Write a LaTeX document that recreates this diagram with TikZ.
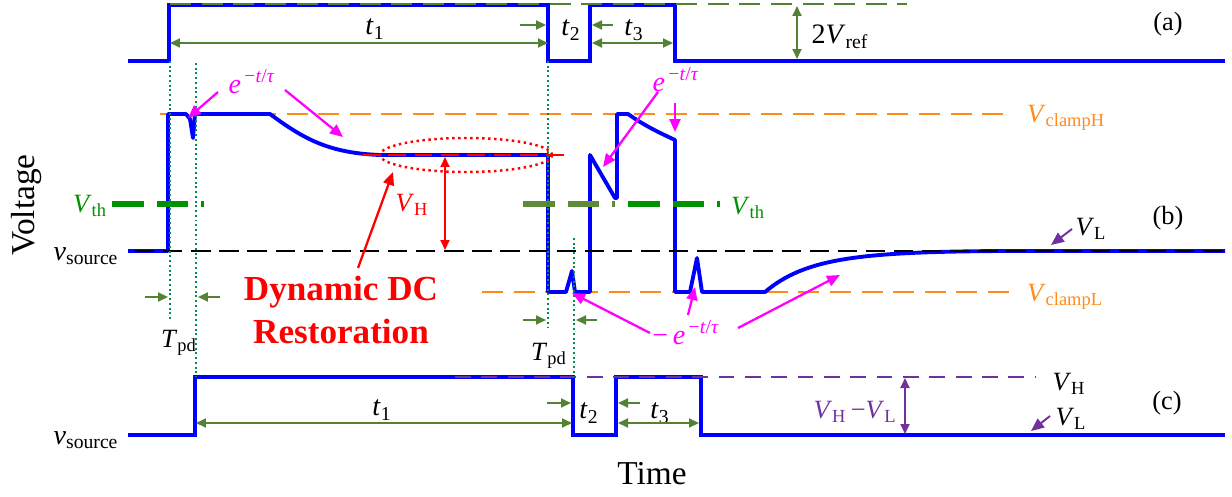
\documentclass[tikz,border=0pt]{standalone}
\usepackage{fontspec}
\setmainfont{Liberation Serif}
\usetikzlibrary{arrows.meta,positioning}
\definecolor{WaveBlue}{HTML}{0000FF}
\definecolor{DimGreen}{HTML}{548235}
\definecolor{DotGreen}{HTML}{00904A}
\definecolor{ThGreen}{HTML}{009000}
\definecolor{ThOlive}{HTML}{5E8A3A}
\definecolor{ClampOrange}{HTML}{FF8C1A}
\definecolor{DecayPink}{HTML}{FF00FF}
\definecolor{RestRed}{HTML}{FF0000}
\definecolor{LevPurple}{HTML}{7030A0}
\newcommand{\vsub}[2]{\textit{#1}\textsubscript{#2}}
\newcommand{\decay}{\textit{e}\textsuperscript{\,−\textit{t}/\textit{τ}}}

\begin{document}
\begin{tikzpicture}[x=0.02cm,y=-0.02cm,font=\fontsize{16}{18}\selectfont,
  wave/.style={draw=WaveBlue,line width=2.2pt},
  dim/.style={DimGreen,line width=1pt,{Triangle[length=2mm,width=1.8mm]}-{Triangle[length=2mm,width=1.8mm]}},
  tip/.style={DimGreen,line width=1pt,-{Triangle[length=2mm,width=1.8mm]}},
  ptr/.style={line width=1.3pt,-{Triangle[length=2.6mm,width=2.2mm]}},
  guide/.style={DotGreen,line width=1.1pt,dash pattern=on 1.1pt off 1.6pt},
  lvl/.style={line width=1.6pt,dash pattern=on 12pt off 6pt},
  thr/.style={line width=3pt,dash pattern=on 18pt off 7.4pt on 18pt off 7.4pt on 1.7pt off 6.8pt},
  tag/.style={font=\fontsize{15}{17}\selectfont}]
  \useasboundingbox (0,0) rectangle (1232,497);

  % (a) reference pulses
  \draw[wave] (128,61) -| (169,5) -| (548,61) -| (590,5) -| (675,61) -- (1225,61);
  \draw[DimGreen,lvl,line width=1.3pt] (170,4) -- (907,4);

  % (b) source voltage
  \draw[ClampOrange,lvl] (160,114) -- (1012,114);
  \draw[ClampOrange,lvl] (482,292) -- (1012,292);
  \draw[wave,line join=round] (128,251) -- (168,251) -- (168,114) -- (186,114) -- (190,119) -- (193,138) -- (195,114) -- (270,114)
    .. controls (305,140) and (330,153) .. (380,155) -- (548,155) -- (548,292) -- (566,292) -- (572,271) -- (575,292) -- (590,292)
    -- (590,155) -- (615,198) -- (617,198) -- (617,114) -- (628,114) .. controls (645,126) and (660,133) .. (675,140)
    -- (675,292) -- (690,292) -- (697,258) -- (702,292) -- (765,292) .. controls (805,258) and (860,252) .. (1000,251) -- (1225,251);
  \draw[black,lvl,dash pattern=on 11pt off 5pt] (135,251) -- (1225,251);
  \draw[RestRed,lvl,line width=1.4pt,dash pattern=on 10pt off 5pt] (362,155) -- (567,155);
  \draw[RestRed,dotted,line width=1.4pt] (466,155) ellipse [x radius=1.72cm,y radius=0.34cm];
  \draw[ThGreen,thr] (112,204) -- (206,204);
  \draw[ThOlive,thr] (523,204) -- (616,204);
  \draw[ThGreen,thr] (628,204) -- (722,204);

  % (c) restored output
  \draw[wave] (128,435) -| (195,377) -| (573,435) -| (616,377) -| (701,435) -- (1225,435);
  \draw[LevPurple,lvl,dash pattern=on 9pt off 6pt] (455,377) -- (1035,377);

  % propagation delay guides
  \draw[guide] (170,61) -- (170,320);
  \draw[guide] (196,63) -- (196,377);
  \draw[guide] (548,61) -- (548,327);
  \draw[guide] (574,238) -- (574,377);

  % labels
  \node (ta1) at (375,29) {\vsub{t}{1}};
  \node (ta2) at (571,30) {\vsub{t}{2}};
  \node (ta3) at (634,30) {\vsub{t}{3}};
  \node (vref) at (840,37) {2\vsub{V}{ref}};
  \node[tag] (pa) at (1168,24) {(a)};
  \node[tag,text=ClampOrange] (vch) at (1066,118) {\vsub{V}{clampH}};
  \node[tag,text=ClampOrange] (vcl) at (1065,297) {\vsub{V}{clampL}};
  \node[text=DecayPink] (ea) at (252,82) {\decay};
  \node[text=DecayPink] (eb) at (676,80) {\decay};
  \node[text=DecayPink] (ec) at (686,333) {−\,\decay};
  \node[tag,text=ThGreen] (vthl) at (90,206) {\vsub{V}{th}};
  \node[tag,text=ThGreen] (vthr) at (748,208) {\vsub{V}{th}};
  \node[tag,text=RestRed] (vhb) at (412,205) {\vsub{V}{H}};
  \node[tag] (vlb) at (1091,229) {\vsub{V}{L}};
  \node[tag] (pb) at (1168,218) {(b)};
  \node (vsb) at (86,256) {\vsub{v}{source}};
  \node[tag] (tpd1) at (179,343) {\vsub{T}{pd}};
  \node[tag] (tpd2) at (549,356) {\vsub{T}{pd}};
  \node[text=RestRed,font=\fontsize{20}{24}\selectfont\bfseries,align=center] (ddc) at (341,310) {Dynamic DC\\Restoration};
  \node (tc1) at (382,410) {\vsub{t}{1}};
  \node (tc2) at (589,413) {\vsub{t}{2}};
  \node (tc3) at (660,413) {\vsub{t}{3}};
  \node[tag] (vhc) at (1069,384) {\vsub{V}{H}};
  \node[tag] (vlc) at (1071,419) {\vsub{V}{L}};
  \node[tag] (pc) at (1167,403) {(c)};
  \node[tag,text=LevPurple] (vhl) at (855,412) {\vsub{V}{H}\,−\vsub{V}{L}};
  \node (vsc) at (86,440) {\vsub{v}{source}};
  \node[font=\fontsize{19}{22}\selectfont,rotate=90] (volt) at (27,205) {Voltage};
  \node[font=\fontsize{19}{22}\selectfont] (time) at (652,474) {Time};

  % arrow end points
  \coordinate (a1l) at (170,43); \coordinate (a1r) at (548,43);
  \coordinate (a3l) at (592,43); \coordinate (a3r) at (673,43);
  \coordinate (a2s) at (520,25); \coordinate (a2e) at (546,25);
  \coordinate (a3s) at (613,25); \coordinate (a3e) at (592,25);
  \coordinate (refT) at (797,6); \coordinate (refB) at (797,59);
  \coordinate (c1l) at (196,423); \coordinate (c1r) at (572,423);
  \coordinate (c3l) at (618,423); \coordinate (c3r) at (699,423);
  \coordinate (c2s) at (547,403); \coordinate (c2e) at (571,403);
  \coordinate (c3s) at (640,403); \coordinate (c3e) at (618,403);
  \coordinate (d1s) at (145,297); \coordinate (d1e) at (168,297);
  \coordinate (d2s) at (220,297); \coordinate (d2e) at (198,297);
  \coordinate (d3s) at (523,320); \coordinate (d3e) at (546,320);
  \coordinate (d4s) at (597,320); \coordinate (d4e) at (576,320);
  \coordinate (hT) at (445,157); \coordinate (hB) at (445,250);
  \coordinate (gT) at (905,378); \coordinate (gB) at (905,434);
  \coordinate (dip) at (188,118); \coordinate (sag) at (343,137);
  \coordinate (nfall) at (603,167); \coordinate (droop) at (675,132);
  \coordinate (spk1) at (572,293); \coordinate (spk2) at (695,287); \coordinate (rise) at (840,275);
  \coordinate (ell) at (393,172);
  \coordinate (lvb) at (1051,245); \coordinate (lvc) at (1031,431);

  % dimensions
  \foreach \s/\e in {a1l/a1r,a3l/a3r,refT/refB,c1l/c1r,c3l/c3r}{\draw[dim] (\s) -- (\e);}
  \foreach \s/\e in {a2s/a2e,a3s/a3e,c2s/c2e,c3s/c3e,d1s/d1e,d2s/d2e,d3s/d3e,d4s/d4e}{\draw[tip] (\s) -- (\e);}
  \draw[dim,RestRed,line width=1.2pt] (hT) -- (hB);
  \draw[dim,LevPurple,line width=1.2pt] (gT) -- (gB);

  % pointers
  \draw[ptr,DecayPink] ([shift={(-34,10)}]ea.center) -- (dip);
  \draw[ptr,DecayPink] ([shift={(33,8)}]ea.center) -- (sag);
  \draw[ptr,DecayPink] ([shift={(-18,12)}]eb.center) -- (nfall);
  \draw[ptr,DecayPink] ([shift={(-1,23)}]eb.center) -- (droop);
  \draw[ptr,DecayPink] ([shift={(-36,0)}]ec.center) -- (spk1);
  \draw[ptr,DecayPink] ([shift={(2,-18)}]ec.center) -- (spk2);
  \draw[ptr,DecayPink] ([shift={(52,-5)}]ec.center) -- (rise);
  \draw[ptr,RestRed] ([shift={(17,-42)}]ddc.center) -- (ell);
  \draw[ptr,LevPurple,line width=1.1pt] ([shift={(-19,0)}]vlb.center) -- (lvb);
  \draw[ptr,LevPurple,line width=1.1pt] ([shift={(-21,-3)}]vlc.center) -- (lvc);
\end{tikzpicture}
\end{document}
